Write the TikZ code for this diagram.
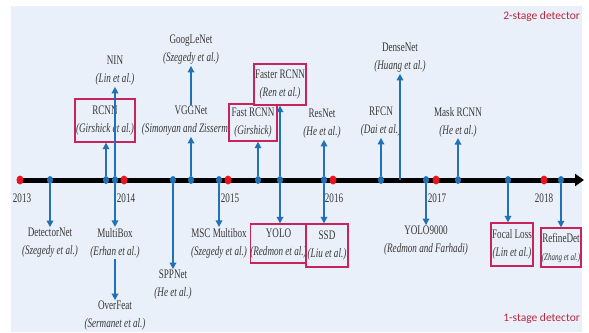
\documentclass[tikz,border=0pt]{standalone}
\usepackage{fontspec}
\setmainfont{Liberation Serif}
\newfontfamily\labfont[FakeStretch=0.7]{Liberation Serif}
\newfontfamily\detfont{Carlito}
\usetikzlibrary{arrows.meta,shapes.geometric}
\definecolor{bgc}{RGB}{234,240,249}
\definecolor{arrc}{RGB}{34,112,182}
\definecolor{dotr}{RGB}{232,20,30}
\definecolor{boxc}{RGB}{200,35,90}
\definecolor{txtc}{RGB}{55,55,55}
\definecolor{detc}{RGB}{185,40,60}
\begin{document}
\begin{tikzpicture}[x=1pt,y=-1pt,
  lab/.style={font={\labfont\fontsize{13}{18}\selectfont}, text=txtc, align=center, inner sep=1pt},
  boxed/.style={lab, draw=boxc, fill=bgc, line width=1.3pt, inner sep=0pt},
  bdot/.style={ellipse, fill=arrc, minimum width=6pt, minimum height=8pt, inner sep=0pt},
  rdot/.style={ellipse, fill=dotr, minimum width=7pt, minimum height=9pt, inner sep=0pt},
  conn/.style={arrc, line width=1.6pt, -{Triangle[width=6.5pt,length=6.5pt]}},
  det/.style={font={\detfont\fontsize{11.5}{14}\selectfont}, text=detc, anchor=east, inner sep=0pt}]
\useasboundingbox (0,0) rectangle (589,332);
\fill[bgc] (11,6) rectangle (582,332);

% axis
\coordinate (axs) at (17,180);
\coordinate (axe) at (584,180);
\draw[line width=5pt, -{Triangle[width=12pt,length=9pt]}] (axs) -- (axe);

% year dots
\node[rdot] (r13) at (20,180) {};
\node[rdot] (r14) at (124,180) {};
\node[rdot] (r15) at (228,180) {};
\node[rdot] (r16) at (333,180) {};
\node[rdot] (r17) at (436,180) {};
\node[rdot] (r18) at (544,180) {};

% event dots
\node[bdot] (d50) at (50,180) {};
\node[bdot] (d106) at (106,180) {};
\node[bdot] (d115) at (115,180) {};
\node[bdot] (d173) at (173,180) {};
\node[bdot] (d191) at (191,180) {};
\node[bdot] (d219) at (219,180) {};
\node[bdot] (d258) at (258,180) {};
\node[bdot] (d280) at (280,180) {};
\node[bdot] (d324) at (324,180) {};
\node[bdot] (d381) at (381,180) {};
\coordinate (c400) at (400,180);
\node[bdot] (d426) at (426,180) {};
\node[bdot] (d458) at (458,180) {};
\node[bdot] (d508) at (508,180) {};
\node[bdot] (d561) at (561,180) {};

% years
\node[lab] (y13) at (22,198) {2013};
\node[lab] (y14) at (126,198) {2014};
\node[lab] (y15) at (230,198) {2015};
\node[lab] (y16) at (334,198) {2016};
\node[lab] (y17) at (437,198) {2017};
\node[lab] (y18) at (544,198) {2018};

% upper labels
\node[lab] (nin) at (115,71) {NIN\\{\itshape(Lin et al.)}};
\node[boxed, minimum width=60pt, minimum height=43pt] (rcnn) at (105,120.5) {RCNN\\{\itshape(Girshick et al.)}};
\node[lab] (google) at (191,50) {GoogLeNet\\{\itshape(Szegedy et al.)}};
\node[lab] (vgg) at (191,121) {VGGNet\\{\itshape(Simonyan and Zisserman)}};
\node[boxed, minimum width=48pt, minimum height=37pt] (fast) at (253,122.5) {Fast RCNN\\{\itshape(Girshick)}};
\node[boxed, minimum width=52pt, minimum height=41pt] (faster) at (280,84.5) {Faster RCNN\\{\itshape(Ren et al.)}};
\node[lab] (resnet) at (322,124) {ResNet\\{\itshape(He et al.)}};
\node[lab] (rfcn) at (381,122) {RFCN\\{\itshape(Dai et al.)}};
\node[lab] (dense) at (400,58) {DenseNet\\{\itshape(Huang et al.)}};
\node[lab] (mask) at (458,122) {Mask RCNN\\{\itshape(He et al.)}};

% lower labels
\node[lab] (detnet) at (50,243) {DetectorNet\\{\itshape(Szegedy et al.)}};
\node[lab] (multibox) at (115,243) {MultiBox\\{\itshape(Erhan et al.)}};
\node[lab] (overfeat) at (115,316) {OverFeat\\{\itshape(Sermanet et al.)}};
\node[lab] (spp) at (173,285) {SPPNet\\{\itshape(He et al.)}};
\node[lab] (msc) at (219,243) {MSC Multibox\\{\itshape(Szegedy et al.)}};
\node[boxed, minimum width=55pt, minimum height=39pt] (yolo) at (278.5,243.5) {YOLO\\{\itshape(Redmon et al.)}};
\node[boxed, minimum width=42pt, minimum height=43pt] (ssd) at (327,245.5) {SSD\\{\itshape(Liu et al.)}};
\node[lab] (y9k) at (426,241) {YOLO9000\\{\itshape(Redmon and Farhadi)}};
\node[boxed, minimum width=42pt, minimum height=43pt] (focal) at (512,244.5) {Focal Loss\\{\itshape(Lin et al.)}};
\node[boxed, minimum width=40pt, minimum height=39pt] (refine) at (561,247.5) {RefineDet\\{\itshape\fontsize{10}{14}\selectfont(Zhang et al.)}};

% detector type labels
\node[det] (two) at (580,16) {2-stage detector};
\node[det] (one) at (580,318) {1-stage detector};

% connectors
\draw[conn] (d106) -- (d106 |- rcnn.south);
\draw[conn] (d115) -- (nin.south);
\draw[conn] (d115) -- (multibox.north);
\draw[conn] (multibox.south) -- (overfeat.north);
\draw[conn] (d50) -- (detnet.north);
\draw[conn] (d173) -- (spp.north);
\draw[conn] (d191) -- (vgg.south);
\draw[conn] (vgg.north) -- (google.south);
\draw[conn] (d219) -- (msc.north);
\draw[conn] (d258) -- (d258 |- fast.south);
\draw[conn] (d280) -- (d280 |- faster.south);
\draw[conn] (d280) -- (d280 |- yolo.north);
\draw[conn] (d324) -- (d324 |- resnet.south);
\draw[conn] (d324) -- (d324 |- ssd.north);
\draw[conn] (d381) -- (rfcn.south);
\draw[conn] (c400) -- (dense.south);
\draw[conn] (d426) -- (y9k.north);
\draw[conn] (d458) -- (mask.south);
\draw[conn] (d508) -- (d508 |- focal.north);
\draw[conn] (d561) -- (refine.north);
\end{tikzpicture}
\end{document}
